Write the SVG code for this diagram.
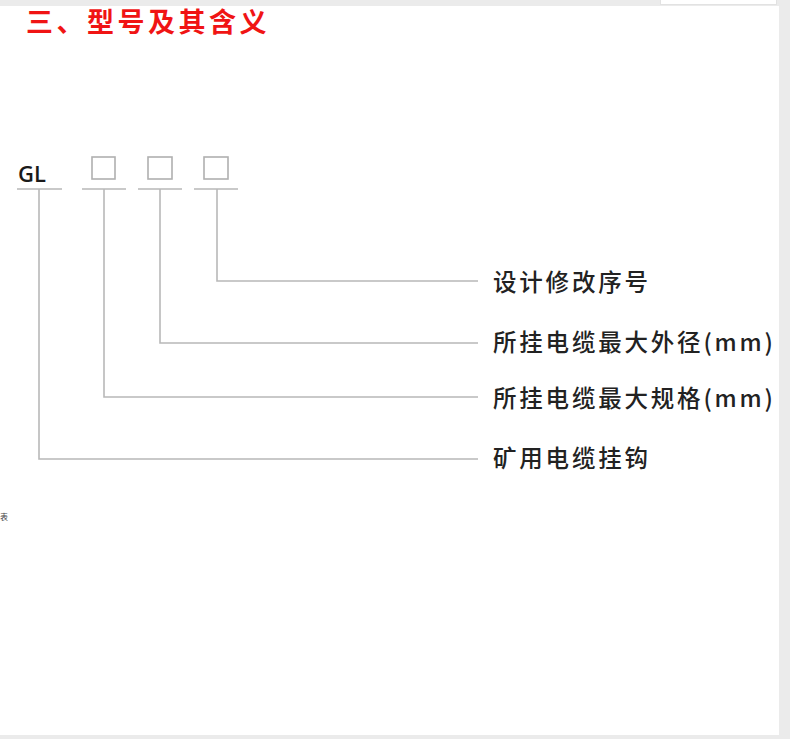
<svg xmlns="http://www.w3.org/2000/svg" width="790" height="739" viewBox="0 0 790 739">
<style>
.bg{fill:#ebebeb}
.ln{stroke:#b8b8b8;stroke-width:1.6;fill:none}
.box{stroke:#b0b0b0;stroke-width:1.6;fill:#fff}
.lbl{font-family:"Noto Sans CJK SC","Noto Sans",sans-serif;font-size:23.5px;letter-spacing:2.8px;fill:#222;font-weight:500}
.title{font-family:"Noto Sans CJK SC","Noto Sans",sans-serif;font-size:27px;letter-spacing:3.5px;fill:#f01414;font-weight:700}
.code{font-family:"Open Sans","Noto Sans",sans-serif;font-size:22px;fill:#1a1a1a;font-weight:600}
</style>
<rect x="0" y="0" width="790" height="739" fill="#fff"/>
<rect class="bg" x="0" y="0" width="790" height="6"/>
<rect class="bg" x="779" y="0" width="11" height="739"/>
<rect class="bg" x="0" y="735" width="790" height="4"/>
<rect x="660.5" y="-2" width="116" height="6.5" fill="#fff" stroke="#e2e2e2" stroke-width="1"/>
<text class="title" x="26" y="32">三、型号及其含义</text>
<text x="0" y="520" font-family="Noto Sans CJK SC, sans-serif" font-size="8" fill="#444">表</text>
<g id="code">
<text class="code" x="18" y="182">GL</text>
</g>
<g id="box1"><rect class="box" x="92" y="157" width="23" height="22"/></g>
<g id="box2"><rect class="box" x="148" y="157" width="24" height="22"/></g>
<g id="box3"><rect class="box" x="204" y="157" width="24" height="22"/></g>
<g id="connectors">
<path class="ln" d="M17 189H62M82 189H126M138 189H182M194 189H238"/>
<path class="ln" d="M39 189V459H478"/>
<path class="ln" d="M104 189V397H478"/>
<path class="ln" d="M160 189V343H478"/>
<path class="ln" d="M217 189V281H478"/>
</g>
<g id="label1"><text class="lbl" x="493" y="291">设计修改序号</text></g>
<g id="label2"><text class="lbl" x="493" y="351">所挂电缆最大外径(mm)</text></g>
<g id="label3"><text class="lbl" x="493" y="407">所挂电缆最大规格(mm)</text></g>
<g id="label4"><text class="lbl" x="493" y="467">矿用电缆挂钩</text></g>
</svg>
